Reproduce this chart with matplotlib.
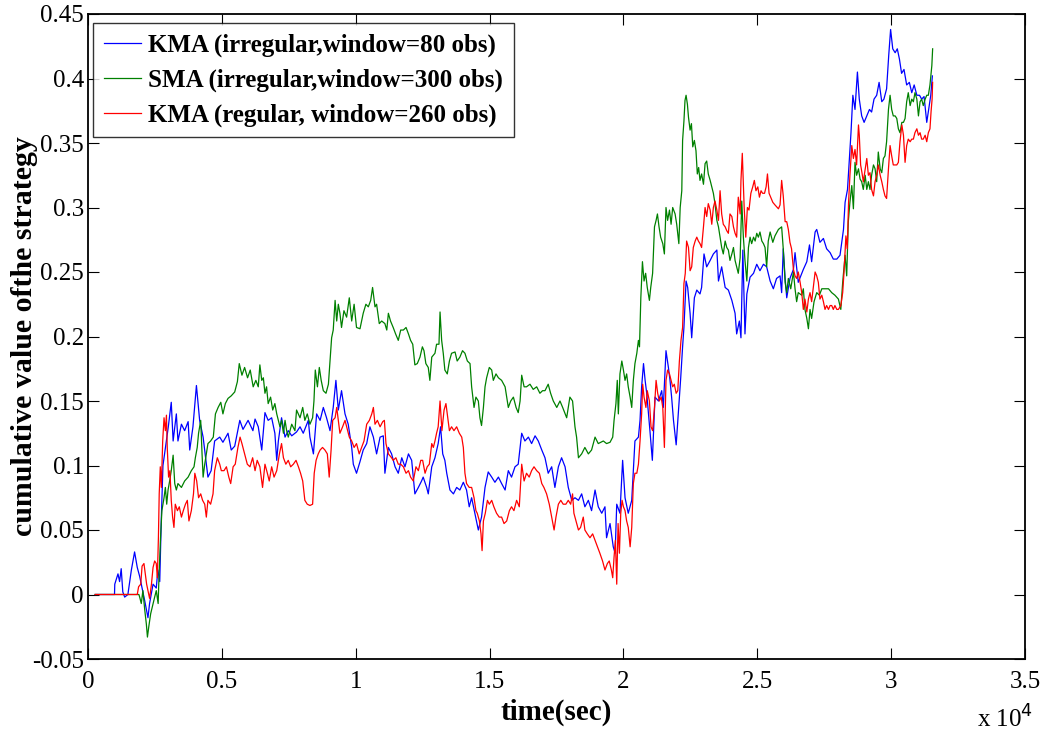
import matplotlib
matplotlib.use("Agg")
import matplotlib.pyplot as plt

# ---- data (time in units of 10^4 sec, cumulative value) ----
blue_t = [0.027, 0.099, 0.100, 0.106, 0.112, 0.118, 0.124, 0.130, 0.137, 0.149, 0.162, 0.174, 0.184, 0.193, 0.199,
          0.212, 0.224, 0.230, 0.243, 0.255, 0.261, 0.268, 0.274, 0.280, 0.290, 0.300, 0.311, 0.318, 0.330, 0.336,
          0.349, 0.361, 0.374, 0.380, 0.392, 0.405, 0.417, 0.430, 0.448, 0.460, 0.473, 0.492, 0.504, 0.523, 0.535,
          0.548, 0.567, 0.579, 0.598, 0.616, 0.624, 0.636, 0.649, 0.661, 0.673, 0.686, 0.698, 0.705, 0.711, 0.723,
          0.736, 0.748, 0.761, 0.779, 0.792, 0.804, 0.823, 0.829, 0.842, 0.854, 0.867, 0.879, 0.891, 0.904, 0.916,
          0.926, 0.935, 0.947, 0.960, 0.972, 0.985, 0.991, 1.003, 1.016, 1.028, 1.041, 1.053, 1.066, 1.078, 1.091,
          1.103, 1.109, 1.122, 1.134, 1.147, 1.159, 1.172, 1.184, 1.197, 1.209, 1.221, 1.234, 1.246, 1.252, 1.265,
          1.271, 1.284, 1.296, 1.308, 1.317, 1.325, 1.333, 1.340, 1.352, 1.365, 1.377, 1.389, 1.402, 1.414, 1.424,
          1.433, 1.445, 1.458, 1.470, 1.483, 1.495, 1.508, 1.520, 1.533, 1.545, 1.558, 1.570, 1.582, 1.595, 1.607,
          1.620, 1.632, 1.645, 1.657, 1.670, 1.682, 1.695, 1.707, 1.719, 1.732, 1.744, 1.757, 1.769, 1.782, 1.794,
          1.807, 1.819, 1.832, 1.844, 1.856, 1.869, 1.881, 1.894, 1.906, 1.919, 1.931, 1.937, 1.944, 1.950, 1.962,
          1.969, 1.975, 1.987, 1.997, 2.006, 2.018, 2.031, 2.043, 2.056, 2.062, 2.068, 2.075, 2.081, 2.087, 2.099,
          2.108, 2.118, 2.131, 2.143, 2.149, 2.159, 2.168, 2.174, 2.180, 2.187, 2.197, 2.205, 2.214, 2.221, 2.226,
          2.234, 2.240, 2.249, 2.255, 2.265, 2.274, 2.286, 2.292, 2.301, 2.311, 2.324, 2.336, 2.349, 2.355, 2.367,
          2.380, 2.392, 2.405, 2.417, 2.423, 2.433, 2.439, 2.446, 2.454, 2.461, 2.473, 2.486, 2.498, 2.510, 2.523,
          2.535, 2.548, 2.560, 2.572, 2.585, 2.591, 2.597, 2.604, 2.610, 2.622, 2.635, 2.641, 2.653, 2.672, 2.685,
          2.695, 2.703, 2.716, 2.722, 2.734, 2.747, 2.759, 2.772, 2.784, 2.797, 2.809, 2.822, 2.828, 2.837, 2.844,
          2.850, 2.857, 2.865, 2.874, 2.881, 2.890, 2.899, 2.909, 2.919, 2.927, 2.936, 2.946, 2.955, 2.965, 2.973,
          2.983, 2.991, 2.998, 3.006, 3.015, 3.023, 3.031, 3.039, 3.048, 3.058, 3.068, 3.077, 3.086, 3.096, 3.106,
          3.114, 3.123, 3.133, 3.140, 3.148, 3.154]
blue_v = [0.000, 0.000, 0.008, 0.012, 0.016, 0.010, 0.020, 0.002, -0.002, 0.000, 0.019, 0.033, 0.021, 0.014, 0.008,
          -0.005, -0.018, -0.007, 0.008, 0.005, 0.019, 0.010, 0.060, 0.100, 0.115, 0.130, 0.149, 0.119, 0.140, 0.119,
          0.132, 0.127, 0.134, 0.112, 0.130, 0.162, 0.135, 0.122, 0.091, 0.096, 0.119, 0.122, 0.118, 0.125, 0.112,
          0.115, 0.135, 0.128, 0.135, 0.127, 0.136, 0.130, 0.112, 0.141, 0.135, 0.137, 0.125, 0.104, 0.119, 0.137,
          0.122, 0.127, 0.123, 0.126, 0.130, 0.125, 0.135, 0.122, 0.109, 0.140, 0.135, 0.145, 0.137, 0.127, 0.145,
          0.166, 0.143, 0.158, 0.140, 0.132, 0.114, 0.101, 0.094, 0.103, 0.112, 0.117, 0.130, 0.122, 0.109, 0.122,
          0.123, 0.094, 0.114, 0.109, 0.099, 0.094, 0.106, 0.099, 0.109, 0.104, 0.078, 0.083, 0.088, 0.091, 0.083,
          0.078, 0.099, 0.106, 0.117, 0.130, 0.109, 0.104, 0.094, 0.081, 0.078, 0.083, 0.081, 0.087, 0.081, 0.068,
          0.075, 0.063, 0.050, 0.060, 0.083, 0.095, 0.091, 0.087, 0.091, 0.086, 0.081, 0.096, 0.091, 0.099, 0.101,
          0.125, 0.119, 0.122, 0.117, 0.123, 0.119, 0.112, 0.106, 0.094, 0.099, 0.083, 0.099, 0.106, 0.099, 0.083,
          0.073, 0.075, 0.073, 0.078, 0.068, 0.073, 0.065, 0.081, 0.068, 0.063, 0.068, 0.044, 0.050, 0.055, 0.037,
          0.032, 0.070, 0.063, 0.104, 0.075, 0.063, 0.073, 0.119, 0.122, 0.135, 0.161, 0.179, 0.166, 0.156, 0.127,
          0.104, 0.153, 0.150, 0.158, 0.145, 0.189, 0.176, 0.166, 0.153, 0.135, 0.116, 0.140, 0.168, 0.192, 0.207,
          0.243, 0.238, 0.218, 0.199, 0.230, 0.236, 0.233, 0.238, 0.264, 0.254, 0.259, 0.264, 0.267, 0.243, 0.254,
          0.238, 0.236, 0.228, 0.218, 0.202, 0.212, 0.199, 0.267, 0.202, 0.233, 0.246, 0.249, 0.256, 0.251, 0.256,
          0.254, 0.243, 0.237, 0.245, 0.247, 0.234, 0.268, 0.245, 0.230, 0.245, 0.252, 0.265, 0.242, 0.252, 0.258,
          0.271, 0.258, 0.281, 0.283, 0.273, 0.276, 0.268, 0.265, 0.260, 0.260, 0.263, 0.283, 0.304, 0.314, 0.338,
          0.358, 0.387, 0.376, 0.405, 0.384, 0.371, 0.366, 0.371, 0.376, 0.374, 0.384, 0.387, 0.397, 0.382, 0.384,
          0.392, 0.418, 0.438, 0.423, 0.420, 0.423, 0.415, 0.404, 0.407, 0.395, 0.397, 0.389, 0.395, 0.387, 0.387,
          0.384, 0.386, 0.366, 0.376, 0.387, 0.402]

green_t = [0.027, 0.190, 0.193, 0.199, 0.205, 0.212, 0.218, 0.222, 0.227, 0.234, 0.243, 0.249, 0.255, 0.262, 0.265,
           0.271, 0.276, 0.284, 0.289, 0.294, 0.299, 0.305, 0.311, 0.318, 0.324, 0.330, 0.336, 0.349, 0.361, 0.374,
           0.386, 0.396, 0.401, 0.408, 0.413, 0.421, 0.426, 0.430, 0.436, 0.448, 0.458, 0.468, 0.476, 0.486, 0.496,
           0.504, 0.513, 0.523, 0.535, 0.548, 0.558, 0.565, 0.575, 0.585, 0.596, 0.606, 0.611, 0.617, 0.627, 0.636,
           0.642, 0.649, 0.655, 0.661, 0.667, 0.673, 0.682, 0.690, 0.698, 0.705, 0.711, 0.717, 0.723, 0.730, 0.736,
           0.742, 0.748, 0.761, 0.773, 0.779, 0.792, 0.802, 0.810, 0.819, 0.829, 0.839, 0.844, 0.849, 0.857, 0.864,
           0.871, 0.879, 0.889, 0.898, 0.904, 0.910, 0.916, 0.923, 0.929, 0.935, 0.941, 0.947, 0.956, 0.966, 0.976,
           0.985, 0.994, 1.003, 1.016, 1.028, 1.038, 1.047, 1.056, 1.063, 1.072, 1.078, 1.088, 1.097, 1.109, 1.116,
           1.122, 1.130, 1.140, 1.149, 1.159, 1.168, 1.178, 1.188, 1.197, 1.205, 1.213, 1.221, 1.230, 1.240, 1.249,
           1.255, 1.262, 1.271, 1.277, 1.284, 1.296, 1.302, 1.311, 1.315, 1.321, 1.327, 1.333, 1.342, 1.350, 1.358,
           1.371, 1.379, 1.389, 1.399, 1.408, 1.417, 1.427, 1.433, 1.442, 1.449, 1.458, 1.464, 1.470, 1.477, 1.483,
           1.489, 1.499, 1.508, 1.514, 1.524, 1.533, 1.545, 1.558, 1.570, 1.579, 1.589, 1.599, 1.607, 1.614, 1.620,
           1.629, 1.638, 1.651, 1.663, 1.676, 1.688, 1.698, 1.707, 1.719, 1.728, 1.738, 1.751, 1.763, 1.773, 1.788,
           1.800, 1.810, 1.819, 1.825, 1.832, 1.844, 1.856, 1.869, 1.881, 1.894, 1.906, 1.925, 1.937, 1.950, 1.960,
           1.965, 1.972, 1.977, 1.981, 1.987, 1.994, 2.000, 2.006, 2.012, 2.018, 2.025, 2.031, 2.037, 2.043, 2.050,
           2.056, 2.060, 2.065, 2.071, 2.077, 2.083, 2.089, 2.097, 2.102, 2.109, 2.116, 2.122, 2.127, 2.133, 2.139,
           2.147, 2.153, 2.159, 2.165, 2.172, 2.178, 2.184, 2.193, 2.199, 2.207, 2.212, 2.218, 2.221, 2.226, 2.230,
           2.234, 2.239, 2.243, 2.249, 2.254, 2.259, 2.265, 2.271, 2.276, 2.281, 2.286, 2.292, 2.299, 2.305, 2.311,
           2.317, 2.324, 2.330, 2.336, 2.342, 2.349, 2.355, 2.361, 2.367, 2.373, 2.380, 2.386, 2.392, 2.398, 2.405,
           2.411, 2.417, 2.423, 2.429, 2.436, 2.442, 2.448, 2.454, 2.461, 2.467, 2.473, 2.479, 2.486, 2.492, 2.498,
           2.504, 2.510, 2.517, 2.523, 2.529, 2.535, 2.541, 2.548, 2.558, 2.566, 2.579, 2.591, 2.597, 2.604, 2.610,
           2.616, 2.625, 2.635, 2.641, 2.647, 2.653, 2.666, 2.672, 2.678, 2.685, 2.691, 2.697, 2.703, 2.712, 2.722,
           2.732, 2.741, 2.753, 2.766, 2.778, 2.790, 2.803, 2.812, 2.819, 2.828, 2.834, 2.840, 2.846, 2.853, 2.859,
           2.865, 2.871, 2.878, 2.884, 2.890, 2.896, 2.903, 2.909, 2.915, 2.921, 2.927, 2.934, 2.940, 2.946, 2.952,
           2.959, 2.965, 2.971, 2.977, 2.983, 2.990, 2.996, 3.002, 3.008, 3.015, 3.021, 3.027, 3.033, 3.040, 3.046,
           3.052, 3.058, 3.064, 3.071, 3.077, 3.083, 3.089, 3.096, 3.102, 3.108, 3.114, 3.120, 3.127, 3.133, 3.139,
           3.145, 3.152, 3.155]
green_v = [0.000, 0.000, -0.002, -0.007, 0.003, -0.012, -0.023, -0.033, -0.025, -0.015, -0.007, -0.002, 0.003, -0.007, 0.013,
           0.044, 0.065, 0.075, 0.083, 0.070, 0.081, 0.088, 0.096, 0.108, 0.086, 0.081, 0.086, 0.083, 0.088, 0.091,
           0.096, 0.099, 0.106, 0.114, 0.125, 0.135, 0.109, 0.091, 0.101, 0.117, 0.119, 0.122, 0.140, 0.145, 0.149,
           0.140, 0.148, 0.152, 0.154, 0.157, 0.165, 0.179, 0.170, 0.176, 0.168, 0.174, 0.168, 0.161, 0.166, 0.161,
           0.178, 0.166, 0.168, 0.156, 0.161, 0.148, 0.153, 0.143, 0.148, 0.140, 0.135, 0.130, 0.135, 0.125, 0.135,
           0.127, 0.122, 0.132, 0.127, 0.143, 0.137, 0.145, 0.135, 0.140, 0.132, 0.137, 0.150, 0.174, 0.161, 0.176,
           0.166, 0.158, 0.156, 0.163, 0.181, 0.199, 0.205, 0.228, 0.212, 0.225, 0.218, 0.207, 0.220, 0.215, 0.230,
           0.212, 0.225, 0.207, 0.206, 0.218, 0.225, 0.223, 0.228, 0.238, 0.223, 0.225, 0.210, 0.212, 0.210, 0.205,
           0.218, 0.212, 0.207, 0.202, 0.197, 0.205, 0.205, 0.207, 0.202, 0.197, 0.194, 0.178, 0.179, 0.184, 0.192,
           0.189, 0.179, 0.176, 0.166, 0.184, 0.187, 0.194, 0.194, 0.219, 0.197, 0.187, 0.174, 0.171, 0.181, 0.187,
           0.188, 0.181, 0.184, 0.189, 0.187, 0.181, 0.179, 0.161, 0.145, 0.153, 0.150, 0.137, 0.131, 0.145, 0.161,
           0.168, 0.176, 0.174, 0.166, 0.171, 0.168, 0.166, 0.161, 0.145, 0.150, 0.153, 0.145, 0.141, 0.150, 0.170,
           0.161, 0.161, 0.163, 0.159, 0.161, 0.156, 0.158, 0.158, 0.163, 0.156, 0.150, 0.145, 0.150, 0.145, 0.137,
           0.153, 0.150, 0.130, 0.122, 0.106, 0.109, 0.114, 0.109, 0.112, 0.122, 0.117, 0.119, 0.117, 0.118, 0.122,
           0.135, 0.148, 0.166, 0.140, 0.171, 0.181, 0.174, 0.166, 0.171, 0.161, 0.153, 0.145, 0.166, 0.179, 0.187,
           0.197, 0.192, 0.230, 0.258, 0.243, 0.249, 0.238, 0.228, 0.238, 0.249, 0.285, 0.290, 0.295, 0.285, 0.277,
           0.272, 0.264, 0.300, 0.290, 0.298, 0.287, 0.300, 0.295, 0.287, 0.272, 0.300, 0.313, 0.352, 0.367, 0.383,
           0.387, 0.380, 0.370, 0.360, 0.365, 0.347, 0.352, 0.344, 0.326, 0.331, 0.321, 0.326, 0.318, 0.334, 0.336,
           0.326, 0.321, 0.316, 0.311, 0.303, 0.290, 0.285, 0.277, 0.269, 0.264, 0.274, 0.269, 0.267, 0.259, 0.264,
           0.269, 0.259, 0.254, 0.249, 0.261, 0.305, 0.277, 0.259, 0.243, 0.269, 0.277, 0.272, 0.277, 0.274, 0.280,
           0.277, 0.281, 0.274, 0.272, 0.269, 0.254, 0.274, 0.281, 0.273, 0.278, 0.283, 0.285, 0.268, 0.242, 0.234,
           0.245, 0.237, 0.250, 0.237, 0.227, 0.234, 0.232, 0.237, 0.221, 0.214, 0.206, 0.221, 0.214, 0.227, 0.234,
           0.232, 0.237, 0.237, 0.237, 0.234, 0.232, 0.229, 0.221, 0.242, 0.263, 0.247, 0.289, 0.304, 0.317, 0.299,
           0.335, 0.325, 0.330, 0.322, 0.320, 0.314, 0.325, 0.314, 0.320, 0.314, 0.325, 0.333, 0.330, 0.320, 0.343,
           0.330, 0.327, 0.338, 0.340, 0.351, 0.376, 0.387, 0.376, 0.371, 0.371, 0.369, 0.361, 0.358, 0.366, 0.366,
           0.369, 0.382, 0.389, 0.379, 0.384, 0.382, 0.389, 0.384, 0.371, 0.382, 0.384, 0.379, 0.384, 0.387, 0.387,
           0.395, 0.410, 0.423]

red_t = [0.027, 0.184, 0.189, 0.197, 0.202, 0.209, 0.214, 0.219, 0.224, 0.230, 0.237, 0.243, 0.249, 0.255, 0.259,
         0.263, 0.266, 0.270, 0.274, 0.279, 0.284, 0.289, 0.293, 0.296, 0.301, 0.306, 0.311, 0.316, 0.321, 0.326,
         0.334, 0.341, 0.349, 0.356, 0.364, 0.371, 0.377, 0.386, 0.394, 0.399, 0.406, 0.413, 0.421, 0.428, 0.436,
         0.442, 0.448, 0.458, 0.467, 0.473, 0.483, 0.492, 0.498, 0.508, 0.517, 0.526, 0.533, 0.542, 0.550, 0.560,
         0.568, 0.575, 0.585, 0.595, 0.605, 0.615, 0.624, 0.632, 0.642, 0.652, 0.661, 0.670, 0.677, 0.686, 0.695,
         0.705, 0.715, 0.723, 0.730, 0.739, 0.748, 0.757, 0.767, 0.777, 0.786, 0.794, 0.802, 0.810, 0.819, 0.829,
         0.839, 0.845, 0.852, 0.860, 0.867, 0.876, 0.885, 0.894, 0.901, 0.908, 0.914, 0.923, 0.929, 0.935, 0.941,
         0.951, 0.960, 0.966, 0.976, 0.985, 0.994, 1.003, 1.013, 1.022, 1.031, 1.041, 1.051, 1.060, 1.066, 1.072,
         1.081, 1.091, 1.101, 1.107, 1.113, 1.122, 1.134, 1.140, 1.150, 1.159, 1.168, 1.178, 1.188, 1.197, 1.205,
         1.215, 1.225, 1.234, 1.243, 1.250, 1.259, 1.267, 1.275, 1.284, 1.290, 1.296, 1.302, 1.308, 1.315, 1.322,
         1.330, 1.337, 1.342, 1.350, 1.358, 1.367, 1.377, 1.387, 1.396, 1.402, 1.408, 1.414, 1.424, 1.433, 1.442,
         1.449, 1.454, 1.462, 1.468, 1.472, 1.477, 1.484, 1.492, 1.499, 1.508, 1.516, 1.526, 1.536, 1.545, 1.554,
         1.564, 1.574, 1.582, 1.591, 1.601, 1.611, 1.620, 1.629, 1.638, 1.648, 1.657, 1.666, 1.676, 1.686, 1.695,
         1.703, 1.713, 1.723, 1.732, 1.741, 1.748, 1.757, 1.766, 1.775, 1.785, 1.794, 1.803, 1.810, 1.815, 1.823,
         1.832, 1.840, 1.850, 1.856, 1.865, 1.875, 1.885, 1.894, 1.903, 1.912, 1.922, 1.931, 1.940, 1.947, 1.955,
         1.960, 1.965, 1.970, 1.975, 1.980, 1.985, 1.990, 1.995, 2.000, 2.006, 2.012, 2.018, 2.025, 2.031, 2.037,
         2.043, 2.050, 2.056, 2.062, 2.068, 2.072, 2.077, 2.084, 2.089, 2.097, 2.103, 2.109, 2.116, 2.122, 2.128,
         2.134, 2.141, 2.147, 2.153, 2.159, 2.165, 2.172, 2.178, 2.184, 2.190, 2.197, 2.203, 2.209, 2.215, 2.221,
         2.226, 2.231, 2.236, 2.243, 2.249, 2.255, 2.261, 2.268, 2.274, 2.280, 2.286, 2.292, 2.299, 2.305, 2.311,
         2.317, 2.324, 2.330, 2.336, 2.342, 2.349, 2.355, 2.361, 2.367, 2.373, 2.380, 2.386, 2.392, 2.398, 2.405,
         2.411, 2.417, 2.423, 2.429, 2.436, 2.439, 2.444, 2.451, 2.457, 2.463, 2.469, 2.476, 2.483, 2.489, 2.495,
         2.502, 2.508, 2.514, 2.520, 2.527, 2.533, 2.538, 2.544, 2.550, 2.558, 2.566, 2.579, 2.585, 2.591, 2.597,
         2.604, 2.610, 2.616, 2.622, 2.628, 2.635, 2.641, 2.647, 2.653, 2.660, 2.666, 2.672, 2.678, 2.685, 2.691,
         2.697, 2.703, 2.716, 2.722, 2.728, 2.734, 2.741, 2.747, 2.753, 2.759, 2.766, 2.772, 2.778, 2.784, 2.790,
         2.797, 2.803, 2.812, 2.819, 2.824, 2.831, 2.836, 2.841, 2.846, 2.853, 2.859, 2.865, 2.871, 2.878, 2.881,
         2.886, 2.891, 2.896, 2.903, 2.909, 2.915, 2.921, 2.927, 2.934, 2.940, 2.946, 2.952, 2.959, 2.965, 2.971,
         2.977, 2.983, 2.990, 2.996, 3.002, 3.008, 3.015, 3.021, 3.027, 3.033, 3.040, 3.046, 3.052, 3.058, 3.064,
         3.071, 3.077, 3.083, 3.089, 3.096, 3.102, 3.108, 3.114, 3.120, 3.127, 3.133, 3.139, 3.145, 3.149, 3.153,
         3.155]
red_v = [0.000, 0.000, 0.006, 0.008, 0.022, 0.024, 0.016, 0.008, 0.003, -0.003, 0.008, 0.021, 0.026, 0.024, 0.013,
         0.044, 0.078, 0.099, 0.083, 0.119, 0.137, 0.127, 0.139, 0.114, 0.091, 0.096, 0.073, 0.060, 0.052, 0.070,
         0.065, 0.068, 0.060, 0.065, 0.070, 0.073, 0.057, 0.065, 0.078, 0.094, 0.088, 0.075, 0.078, 0.073, 0.070,
         0.060, 0.073, 0.070, 0.078, 0.096, 0.106, 0.101, 0.096, 0.096, 0.099, 0.091, 0.086, 0.099, 0.101, 0.114,
         0.122, 0.117, 0.109, 0.101, 0.099, 0.106, 0.096, 0.104, 0.099, 0.083, 0.101, 0.094, 0.088, 0.099, 0.091,
         0.096, 0.109, 0.117, 0.106, 0.101, 0.104, 0.099, 0.101, 0.104, 0.099, 0.094, 0.088, 0.073, 0.070, 0.069,
         0.070, 0.094, 0.104, 0.109, 0.112, 0.114, 0.112, 0.109, 0.091, 0.112, 0.135, 0.137, 0.145, 0.135, 0.125,
         0.130, 0.135, 0.130, 0.122, 0.119, 0.114, 0.117, 0.109, 0.114, 0.119, 0.132, 0.135, 0.140, 0.145, 0.132,
         0.135, 0.130, 0.134, 0.135, 0.117, 0.109, 0.106, 0.104, 0.106, 0.101, 0.101, 0.099, 0.094, 0.096, 0.091,
         0.088, 0.099, 0.096, 0.104, 0.104, 0.094, 0.099, 0.101, 0.117, 0.114, 0.119, 0.125, 0.130, 0.150, 0.127,
         0.143, 0.148, 0.140, 0.127, 0.130, 0.127, 0.130, 0.125, 0.122, 0.114, 0.094, 0.086, 0.083, 0.083, 0.075,
         0.065, 0.063, 0.057, 0.047, 0.034, 0.057, 0.063, 0.073, 0.070, 0.073, 0.068, 0.063, 0.060, 0.060, 0.055,
         0.057, 0.065, 0.068, 0.065, 0.073, 0.068, 0.101, 0.088, 0.094, 0.091, 0.096, 0.099, 0.096, 0.094, 0.086,
         0.083, 0.078, 0.070, 0.060, 0.050, 0.060, 0.070, 0.073, 0.070, 0.070, 0.073, 0.070, 0.078, 0.063, 0.057,
         0.050, 0.052, 0.060, 0.050, 0.047, 0.044, 0.047, 0.042, 0.037, 0.032, 0.026, 0.019, 0.024, 0.026, 0.019,
         0.013, 0.029, 0.042, 0.008, 0.055, 0.032, 0.063, 0.073, 0.068, 0.065, 0.057, 0.052, 0.037, 0.052, 0.086,
         0.094, 0.094, 0.101, 0.119, 0.140, 0.163, 0.153, 0.145, 0.158, 0.150, 0.130, 0.127, 0.145, 0.166, 0.156,
         0.150, 0.153, 0.145, 0.114, 0.166, 0.174, 0.171, 0.166, 0.161, 0.163, 0.156, 0.158, 0.181, 0.197, 0.207,
         0.241, 0.249, 0.274, 0.269, 0.251, 0.254, 0.269, 0.274, 0.277, 0.274, 0.272, 0.269, 0.285, 0.300, 0.293,
         0.303, 0.298, 0.287, 0.300, 0.305, 0.298, 0.290, 0.313, 0.295, 0.287, 0.285, 0.282, 0.280, 0.295, 0.293,
         0.285, 0.280, 0.277, 0.308, 0.295, 0.321, 0.342, 0.300, 0.277, 0.300, 0.298, 0.311, 0.316, 0.321, 0.313,
         0.316, 0.308, 0.313, 0.311, 0.311, 0.316, 0.326, 0.311, 0.308, 0.304, 0.302, 0.299, 0.302, 0.321, 0.309,
         0.289, 0.289, 0.283, 0.273, 0.268, 0.252, 0.247, 0.245, 0.250, 0.242, 0.234, 0.221, 0.229, 0.219, 0.229,
         0.234, 0.227, 0.250, 0.247, 0.242, 0.229, 0.232, 0.227, 0.221, 0.224, 0.221, 0.224, 0.224, 0.221, 0.224,
         0.221, 0.221, 0.224, 0.234, 0.250, 0.278, 0.268, 0.304, 0.325, 0.348, 0.338, 0.345, 0.333, 0.364, 0.356,
         0.333, 0.327, 0.320, 0.330, 0.338, 0.325, 0.327, 0.314, 0.309, 0.320, 0.325, 0.333, 0.325, 0.320, 0.314,
         0.309, 0.307, 0.330, 0.348, 0.340, 0.333, 0.333, 0.333, 0.335, 0.351, 0.364, 0.356, 0.335, 0.348, 0.353,
         0.351, 0.353, 0.353, 0.358, 0.361, 0.356, 0.358, 0.353, 0.353, 0.356, 0.351, 0.358, 0.361, 0.374, 0.384,
         0.397]

series_labels = ["KMA (irregular,window=80 obs)",
                 "SMA (irregular,window=300 obs)",
                 "KMA (regular, window=260 obs)"]
x_ticks = [0, 0.5, 1, 1.5, 2, 2.5, 3, 3.5]
x_tick_labels = ["0", "0.5", "1", "1.5", "2", "2.5", "3", "3.5"]
y_ticks = [-0.05, 0, 0.05, 0.1, 0.15, 0.2, 0.25, 0.3, 0.35, 0.4, 0.45]
y_tick_labels = ["-0.05", "0", "0.05", "0.1", "0.15", "0.2", "0.25", "0.3", "0.35", "0.4", "0.45"]

plt.rcParams['font.family'] = ['Liberation Serif', 'DejaVu Serif']

fig = plt.figure(figsize=(10.43, 7.35), dpi=100)
ax = fig.add_axes([88 / 1043, 1 - 659 / 735, (1025 - 88) / 1043, (659 - 14) / 735])

lw = 0.9
ax.plot(blue_t, blue_v, color=(0, 0, 1), lw=lw, label=series_labels[0])
ax.plot(green_t, green_v, color=(0, 0.5, 0), lw=lw, label=series_labels[1])
ax.plot(red_t, red_v, color=(1, 0, 0), lw=lw, label=series_labels[2])

ax.set_xlim(0, 3.5)
ax.set_ylim(-0.05, 0.45)
ax.set_xticks(x_ticks)
ax.set_xticklabels(x_tick_labels)
ax.set_yticks(y_ticks)
ax.set_yticklabels(y_tick_labels)
ax.tick_params(direction='in', length=8, width=0.8, top=True, right=True,
               labelsize=18, colors='black')
ax.tick_params(axis='x', pad=9)
ax.tick_params(axis='y', pad=3)
for s in ax.spines.values():
    s.set_linewidth(1.3)

ax.set_xlabel("time(sec)", fontsize=21, fontweight='bold')
ax.xaxis.set_label_coords(0.5, (659 - 712) / 645, transform=ax.transAxes)
ax.xaxis.label.set_va('center')
ax.set_ylabel("cumulative value ofthe strategy", fontsize=21.5, fontweight='bold')
ax.yaxis.set_label_coords((25 - 88) / 937, 0.5, transform=ax.transAxes)
ax.yaxis.label.set_va('center')

fig.text(977 / 1043, 1 - 728 / 735, r"x 10$^{4}$", fontsize=18, ha='left', va='baseline')

leg = ax.legend(loc='upper left', bbox_to_anchor=(5 / 937, 1 - 9 / 645),
                prop={'weight': 'bold', 'size': 18}, frameon=True, fancybox=False,
                handlelength=1.5, handletextpad=0.3, labelspacing=0.46,
                borderpad=0.42, borderaxespad=0.0)
leg.get_frame().set_edgecolor('black')
leg.get_frame().set_linewidth(1.0)

fig.savefig("out.png", dpi=100)
